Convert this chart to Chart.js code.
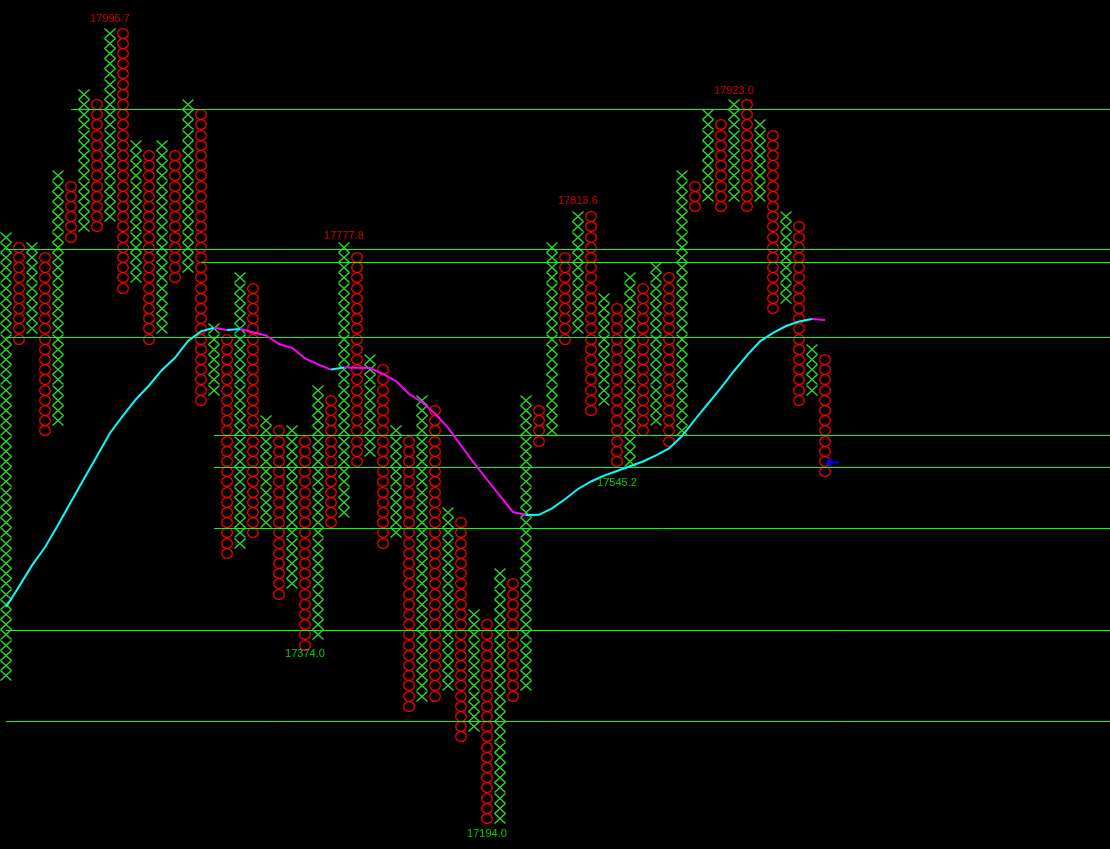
<!DOCTYPE html>
<html>
<head>
<meta charset="utf-8">
<script src="https://cdn.jsdelivr.net/npm/chart.js@4"></script>
<style>
  html, body { margin: 0; padding: 0; background: #000; overflow: hidden; }
  canvas { display: block; background: #000; }
</style>
</head>
<body>
<canvas id="pnf" width="1110" height="849"></canvas>
<script>
// Point & figure columns: even index = X column, odd index = O column
const BOX = 10.2;
const colHigh = [17788.8, 17778.6, 17778.6, 17768.4, 17850.0, 17839.8, 17931.6, 17921.4, 17992.8, 17992.8,
  17880.6, 17870.4, 17880.6, 17870.4, 17921.4, 17911.2, 17697.0, 17686.8, 17748.0, 17737.8,
  17605.2, 17595.0, 17595.0, 17584.8, 17635.8, 17625.6, 17778.6, 17768.4, 17666.4, 17656.2,
  17595.0, 17584.8, 17625.6, 17615.4, 17513.4, 17503.2, 17411.4, 17401.2, 17452.2, 17442.0,
  17625.6, 17615.4, 17778.6, 17768.4, 17809.2, 17809.2, 17727.6, 17717.4, 17748.0, 17737.8,
  17758.2, 17748.0, 17850.0, 17839.8, 17911.2, 17901.0, 17921.4, 17921.4, 17901.0, 17890.8,
  17809.2, 17799.0, 17676.6, 17666.4];
const colLow = [17340.0, 17676.6, 17686.8, 17584.8, 17595.0, 17778.6, 17788.8, 17788.8, 17799.0, 17727.6,
  17737.8, 17676.6, 17686.8, 17737.8, 17748.0, 17615.4, 17625.6, 17462.4, 17472.6, 17482.8,
  17493.0, 17421.6, 17431.8, 17370.6, 17380.8, 17493.0, 17503.2, 17554.2, 17564.4, 17472.6,
  17482.8, 17309.4, 17319.6, 17319.6, 17329.8, 17278.8, 17289.0, 17197.2, 17197.2, 17319.6,
  17329.8, 17574.6, 17584.8, 17676.6, 17686.8, 17605.2, 17615.4, 17554.2, 17554.2, 17584.8,
  17595.0, 17574.6, 17584.8, 17809.2, 17819.4, 17809.2, 17819.4, 17809.2, 17819.4, 17707.2,
  17717.4, 17615.4, 17625.6, 17544.0];

// moving average, one value per column
const maValues = [17413.7, 17434.1, 17455.3, 17473.4, 17495.8, 17518.9, 17541.9, 17564.8, 17587.7, 17605.0,
  17621.5, 17635.2, 17650.8, 17662.9, 17679.8, 17689.3, 17693.0, 17690.7, 17691.7, 17688.4,
  17685.2, 17676.7, 17672.9, 17662.4, 17656.3, 17651.1, 17653.1, 17652.9, 17652.7, 17646.8,
  17639.6, 17626.7, 17618.7, 17607.1, 17593.1, 17575.2, 17557.7, 17541.2, 17524.9, 17508.7,
  17505.7, 17505.9, 17512.4, 17521.4, 17531.7, 17539.2, 17545.1, 17549.7, 17554.4, 17559.2,
  17565.4, 17572.2, 17584.7, 17601.2, 17617.1, 17632.9, 17649.7, 17665.3, 17679.4, 17687.9,
  17694.7, 17699.2, 17701.7, 17700.7];

// horizontal price lines and the column where each starts
const hLinePrice = [17911.2, 17771.2, 17758.2, 17683.2, 17585.2, 17553.2, 17492.2, 17390.2, 17299.2];
const hLineStart = [5, 0, 15, 0, 16, 16, 16, 0, 0];

// high / low labels
const highLabelCol = [8, 26, 44, 56];
const highLabelPrice = [17995.7, 17777.8, 17813.6, 17923.0];
const lowLabelCol = [23, 37, 47];
const lowLabelPrice = [17374.0, 17194.0, 17545.2];

const lastPrice = 17558.2;

// mark images
function makeX() {
  const c = document.createElement("canvas");
  c.width = 12; c.height = 11;
  const g = c.getContext("2d");
  g.strokeStyle = "#2ae02a";
  g.lineWidth = 1.3;
  g.beginPath();
  g.moveTo(0.5, 0.5); g.lineTo(11.5, 10.5);
  g.moveTo(11.5, 0.5); g.lineTo(0.5, 10.5);
  g.stroke();
  return c;
}
function makeO() {
  const c = document.createElement("canvas");
  c.width = 12; c.height = 11;
  const g = c.getContext("2d");
  g.strokeStyle = "#ff0000";
  g.lineWidth = 1.2;
  g.beginPath();
  g.ellipse(6, 5.5, 5.3, 4.9, 0, 0, Math.PI * 2);
  g.stroke();
  return c;
}

const xPoints = [];
const oPoints = [];
for (let i = 0; i < colHigh.length; i++) {
  const n = Math.round((colHigh[i] - colLow[i]) / BOX);
  for (let j = 0; j < n; j++) {
    const p = { x: i, y: colHigh[i] - BOX / 2 - j * BOX };
    if (i % 2 === 0) xPoints.push(p); else oPoints.push(p);
  }
}

const maData = maValues.map((v, i) => ({ x: i, y: v }));

const lineSets = hLinePrice.map((p, i) => ({
  type: "line",
  data: [{ x: hLineStart[i], y: p }, { x: 90, y: p }],
  borderColor: "#00ff00",
  borderWidth: 1,
  pointRadius: 0,
  fill: false,
}));

const labelPlugin = {
  id: "pnfLabels",
  beforeDraw(chart) {
    chart.ctx.imageSmoothingEnabled = false;
  },
  afterDatasetsDraw(chart) {
    const ctx = chart.ctx;
    const xs = chart.scales.x, ys = chart.scales.y;
    ctx.save();
    ctx.font = "11px 'Liberation Sans', Arial, sans-serif";
    ctx.textAlign = "center";
    ctx.fillStyle = "#d00000";
    ctx.textBaseline = "bottom";
    highLabelCol.forEach((c, i) => {
      ctx.fillText(highLabelPrice[i].toFixed(1), xs.getPixelForValue(c), ys.getPixelForValue(highLabelPrice[i]) - 1);
    });
    ctx.fillStyle = "#00d000";
    ctx.textBaseline = "top";
    lowLabelCol.forEach((c, i) => {
      ctx.fillText(lowLabelPrice[i].toFixed(1), xs.getPixelForValue(c), ys.getPixelForValue(lowLabelPrice[i]) + 2);
    });
    // current price arrow
    const ax = xs.getPixelForValue(colHigh.length - 1);
    const ay = ys.getPixelForValue(lastPrice);
    ctx.strokeStyle = "#0000ff";
    ctx.lineWidth = 2;
    ctx.beginPath();
    ctx.moveTo(ax + 2, ay); ctx.lineTo(ax + 14, ay);
    ctx.moveTo(ax + 6, ay - 4); ctx.lineTo(ax + 2, ay); ctx.lineTo(ax + 6, ay + 4);
    ctx.stroke();
    ctx.restore();
  },
};

new Chart(document.getElementById("pnf"), {
  type: "scatter",
  data: {
    datasets: [
      {
        type: "line",
        data: maData,
        borderWidth: 2,
        pointRadius: 0,
        tension: 0,
        fill: false,
        borderColor: "#00ffff",
        segment: {
          borderColor: (c) => (c.p1.parsed.y < c.p0.parsed.y ? "#ff00ff" : "#00ffff"),
        },
      },
      ...lineSets,
      { data: xPoints, pointStyle: makeX(), pointRadius: 6, pointHoverRadius: 6 },
      { data: oPoints, pointStyle: makeO(), pointRadius: 6, pointHoverRadius: 6 },
    ],
  },
  options: {
    responsive: false,
    animation: false,
    devicePixelRatio: 1,
    layout: { padding: 0, autoPadding: false },
    events: [],
    plugins: { legend: { display: false }, tooltip: { enabled: false } },
    scales: {
      x: { type: "linear", display: false, min: -6 / 13, max: -6 / 13 + 1110 / 13 },
      y: { type: "linear", display: false, min: 18020.7 - 849, max: 18020.7 },
    },
  },
  plugins: [labelPlugin],
});
</script>
</body>
</html>
